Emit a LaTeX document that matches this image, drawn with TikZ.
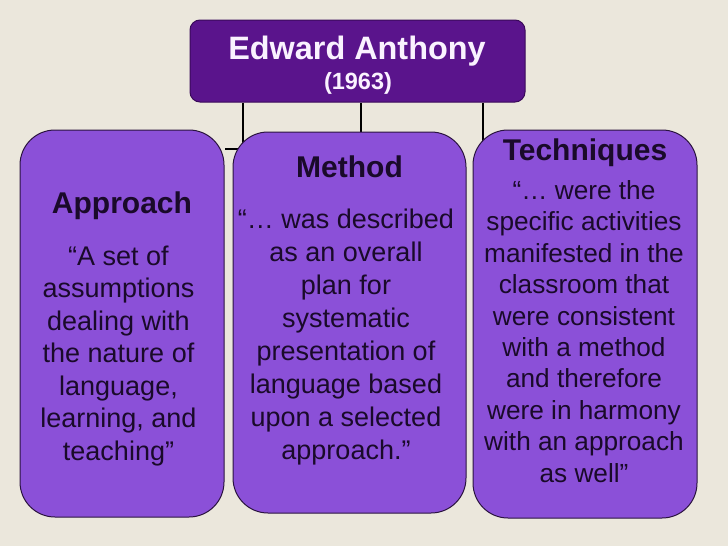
\documentclass[tikz,border=0pt]{standalone}
\usepackage{fontspec}
\setmainfont{Liberation Sans}
\definecolor{bgbeige}{HTML}{EBE7DC}
\definecolor{topfill}{HTML}{5A148C}
\definecolor{topline}{HTML}{3A0A5A}
\definecolor{boxfill}{HTML}{8B50D8}
\definecolor{boxline}{HTML}{2B1440}
\definecolor{txtdark}{HTML}{1A0A2A}
\definecolor{toptxt}{HTML}{FAF2FF}
\pgfdeclarelayer{bg}
\pgfdeclarelayer{conn}
\pgfsetlayers{bg,conn,main}
\tikzset{
  topbox/.style={draw=topline, line width=1pt, fill=topfill, rounded corners=10pt, inner sep=0pt},
  bigbox/.style={draw=boxline, line width=1pt, fill=boxfill, rounded corners=35pt, inner sep=0pt},
  titletxt/.style={font=\fontsize{30}{32}\selectfont\bfseries, text=txtdark, anchor=base, inner sep=0pt},
  bodytxt/.style={text=txtdark, align=center, anchor=base, inner sep=0pt},
  conline/.style={draw=black, line width=1.5pt}
}
\begin{document}
\begin{tikzpicture}[x=1pt, y=-1pt]
\useasboundingbox (0,0) rectangle (728,546);
\begin{pgfonlayer}{bg}
\fill[bgbeige] (0,0) rectangle (728,546);
\end{pgfonlayer}

\node[topbox, minimum width=335pt, minimum height=82pt] (top) at (357.5,61) {};
\node[font=\fontsize{32.4}{34}\selectfont\bfseries, text=toptxt, anchor=base, inner sep=0pt] (name) at (357,59) {Edward Anthony};
\node[font=\fontsize{23.5}{26}\selectfont\bfseries, text=toptxt, anchor=base, inner sep=0pt] (year) at (358,89) {(1963)};

\node[bigbox, minimum width=204pt, minimum height=387pt] (appr) at (122,323.5) {};
\node[bigbox, minimum width=233pt, minimum height=381pt] (meth) at (349.5,322.5) {};
\node[bigbox, minimum width=224pt, minimum height=388pt] (tech) at (585,324) {};

\node[titletxt] (apprT) at (122,213) {Approach};
\node[titletxt] (methT) at (349.5,177) {Method};
\node[titletxt] (techT) at (585,160) {Techniques};

\node[bodytxt, font=\fontsize{27}{32.5}\selectfont] (apprB) at (118.5,460) {“A set of\\assumptions\\dealing with\\the nature of\\language,\\learning, and\\teaching”};
\node[bodytxt, font=\fontsize{27}{32.9}\selectfont] (methB) at (346,459) {“… was described\\as an overall\\plan for\\systematic\\presentation of\\language based\\upon a selected\\approach.”};
\node[bodytxt, font=\fontsize{26.2}{31.4}\selectfont] (techB) at (584,482) {“… were the\\specific activities\\manifested in the\\classroom that\\were consistent\\with a method\\and therefore\\were in harmony\\with an approach\\as well”};

\coordinate (elbow) at (243,149);
\begin{pgfonlayer}{conn}
\draw[conline] (top.south -| elbow) -- (elbow) -- (elbow -| appr.east);
\draw[conline] (top.south -| 361,0) -- (meth.north -| 361,0);
\draw[conline] (top.south -| 483,0) -- (tech.north -| 483,0) -- ++(0,12);
\end{pgfonlayer}
\end{tikzpicture}
\end{document}
